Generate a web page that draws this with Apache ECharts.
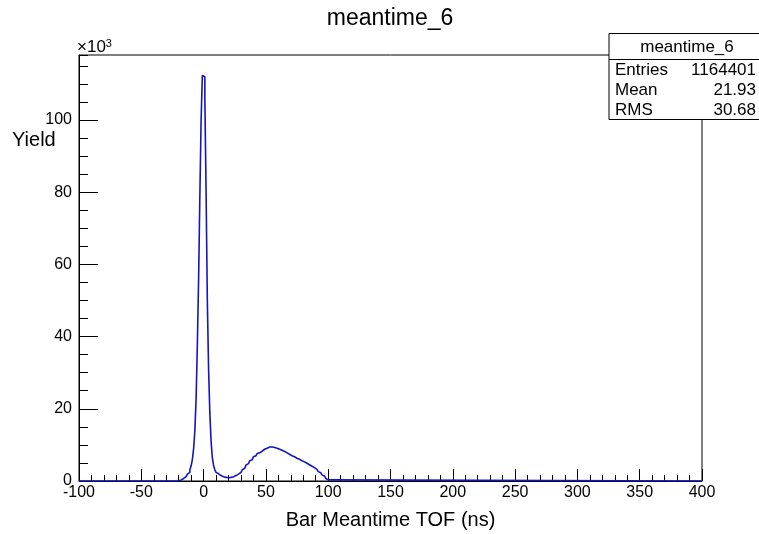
<!DOCTYPE html>
<html>
<head>
<meta charset="utf-8">
<title>meantime_6</title>
<script src="https://cdn.jsdelivr.net/npm/echarts@6/dist/echarts.min.js"></script>
<style>
    html, body { margin: 0; padding: 0; background: #fff; }
    #chart { width: 759px; height: 534px; }
</style>
</head>
<body>
<div id="chart"></div>
<script>
// histogram meantime_6, 1 ns bins, counts in units of 10^3
const xMin = -100;
const xMax = 400;
const xTicks = [-100, -50, 0, 50, 100, 150, 200, 250, 300, 350, 400];
const yTicks = [0, 20, 40, 60, 80, 100];
const yMax = 118;

const firstBin = -20; // left edge of first non-empty bin
const binWidth = 1;
const yieldK = [
    0.2, 0.3, 0.5, 0.7, 0.9, 1.2, 1.5, 1.9, 2.4, 3.1,
    4.2, 6.0, 9.0, 14, 23, 38, 56, 79, 100, 112.3,
    112.0, 106, 80, 50, 31, 19, 11, 6.5, 4.3, 3.1,
    2.4, 2.0, 1.7, 1.5, 1.3, 1.2, 1.1, 1.0, 1.0, 0.9,
    1.0, 1.0, 1.1, 1.2, 1.3, 1.5, 1.7, 1.9, 2.1, 2.4,
    2.7, 3.1, 3.5, 3.9, 4.4, 4.8, 5.2, 5.6, 5.9, 6.3,
    6.7, 7.0, 7.3, 7.6, 7.8, 8.1, 8.3, 8.5, 8.8, 8.9,
    9.1, 9.2, 9.4, 9.3, 9.4, 9.3, 9.3, 9.1, 9.1, 8.9,
    8.8, 8.7, 8.5, 8.4, 8.2, 8.0, 7.8, 7.6, 7.4, 7.2,
    7.0, 6.9, 6.7, 6.5, 6.3, 6.2, 6.0, 5.8, 5.6, 5.5,
    5.3, 5.1, 4.9, 4.7, 4.5, 4.3, 4.1, 3.9, 3.7, 3.5,
    3.2, 2.9, 2.6, 2.3, 2.0, 1.7, 1.4, 1.0, 0.7, 0.3
];

const statLabels = ['Entries', 'Mean', 'RMS'];
const statValues = ['1164401', '21.93', '30.68'];

// step line through bin left edges, empty bins drawn as zero
const histData = [[xMin, 0]];
yieldK.forEach((v, i) => histData.push([firstBin + i * binWidth, v]));
histData.push([firstBin + yieldK.length * binWidth, 0]);
histData.push([xMax, 0]);

const font = 'Liberation Sans, Arial, Helvetica, sans-serif';
const chart = echarts.init(document.getElementById('chart'));

const statRows = [70, 90.5, 110.5];
const statGraphics = [];
statLabels.forEach((lab, i) => {
    statGraphics.push({
        type: 'text', x: 615, y: statRows[i], z: 101,
        style: { text: lab, font: '17px ' + font, fill: '#000', verticalAlign: 'middle' }
    });
    statGraphics.push({
        type: 'text', x: 756, y: statRows[i], z: 101,
        style: { text: statValues[i], font: '17px ' + font, fill: '#000', align: 'right', verticalAlign: 'middle' }
    });
});

const option = {
    animation: false,
    grid: {
        show: true,
        left: 79,
        right: 57,
        top: 55,
        bottom: 53,
        outerBoundsMode: 'none',
        containLabel: false,
        borderColor: '#000',
        borderWidth: 1,
        backgroundColor: '#fff'
    },
    xAxis: {
        type: 'value',
        min: xMin,
        max: xMax,
        interval: 50,
        name: 'Bar Meantime TOF (ns)',
        nameLocation: 'middle',
        nameGap: 29,
        nameTextStyle: { color: '#000', fontSize: 20, fontFamily: font },
        axisLine: { show: true, onZero: false, lineStyle: { color: '#000', width: 1 } },
        axisTick: { show: true, inside: true, length: 12, lineStyle: { color: '#000' } },
        minorTick: { show: true, splitNumber: 5, length: 6, lineStyle: { color: '#000' } },
        axisLabel: {
            color: '#000', fontSize: 16, fontFamily: font, margin: 4,
            formatter: v => xTicks.includes(v) ? String(v) : ''
        },
        splitLine: { show: false }
    },
    yAxis: [
        {
            type: 'value',
            min: 0,
            max: yMax,
            interval: 20,
            position: 'left',
            axisLine: { show: true, onZero: false, lineStyle: { color: '#000', width: 1 } },
            axisTick: { show: true, inside: true, length: 19, lineStyle: { color: '#000' } },
            axisLabel: {
                color: '#000', fontSize: 16, fontFamily: font, margin: 7,
                showMaxLabel: false,
                formatter: v => yTicks.includes(v) ? String(v) : ''
            },
            splitLine: { show: false }
        },
        {
            // minor ticks every 5 x10^3
            type: 'value',
            min: 0,
            max: yMax,
            interval: 5,
            position: 'left',
            axisLine: { show: false, onZero: false },
            axisTick: { show: true, inside: true, length: 9, lineStyle: { color: '#000' } },
            axisLabel: { show: false },
            splitLine: { show: false }
        }
    ],
    series: [
        {
            type: 'line',
            step: 'end',
            data: histData,
            showSymbol: false,
            symbol: 'none',
            lineStyle: { color: '#1414c0', width: 1.6 },
            z: 5
        }
    ],
    graphic: [
        {
            type: 'text', x: 390, y: 19,
            style: { text: 'meantime_6', font: '23px ' + font, fill: '#000', align: 'center', verticalAlign: 'middle' }
        },
        {
            type: 'text', x: 12, y: 140,
            style: { text: 'Yield', font: '20px ' + font, fill: '#000', verticalAlign: 'middle' }
        },
        {
            type: 'text', x: 77, y: 38,
            style: {
                text: '×10{s|3}',
                font: '17px ' + font,
                fill: '#000',
                rich: { s: { fontSize: 11, fontFamily: font, verticalAlign: 'top', padding: [0, 0, 7, 0] } }
            }
        },
        {
            type: 'rect', z: 100,
            shape: { x: 609, y: 33.5, width: 160, height: 86 },
            style: { fill: '#fff', stroke: '#000', lineWidth: 1 }
        },
        {
            type: 'line', z: 101,
            shape: { x1: 609, y1: 59.5, x2: 759, y2: 59.5 },
            style: { stroke: '#000', lineWidth: 1 }
        },
        {
            type: 'text', x: 687, y: 47, z: 101,
            style: { text: 'meantime_6', font: '17px ' + font, fill: '#000', align: 'center', verticalAlign: 'middle' }
        }
    ].concat(statGraphics)
};
chart.setOption(option);
</script>
</body>
</html>
